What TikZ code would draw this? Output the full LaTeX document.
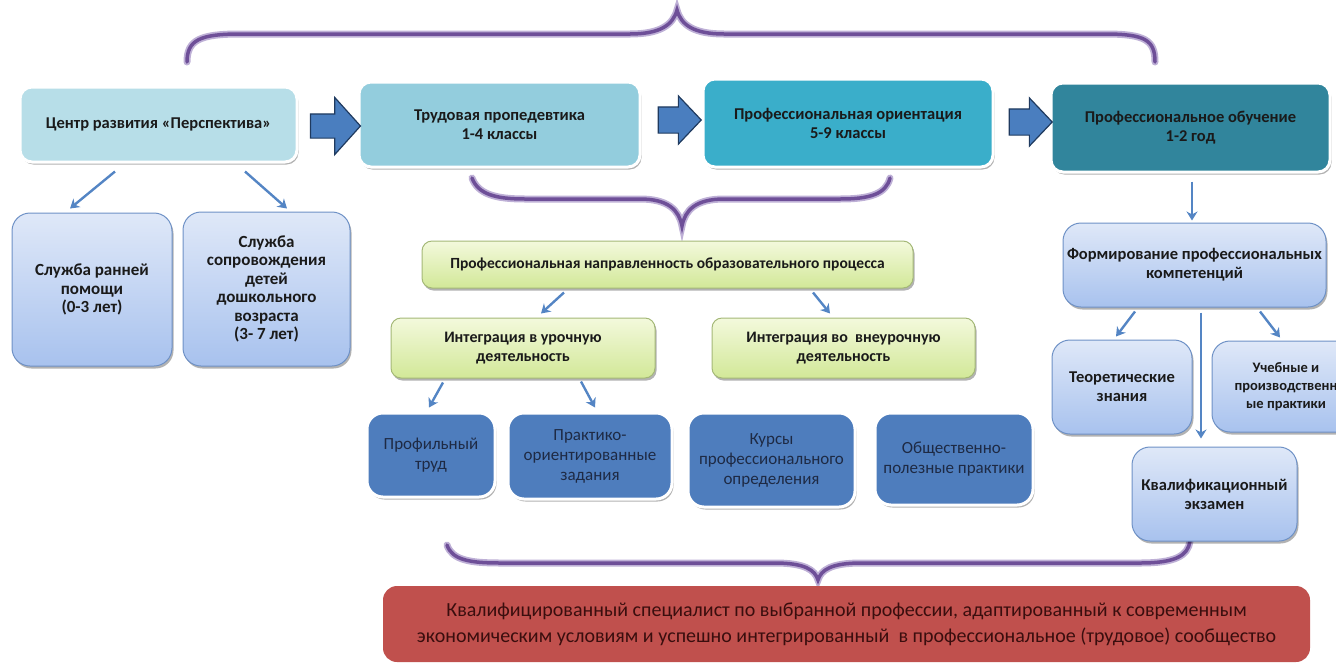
\documentclass[tikz,border=0pt]{standalone}
\usepackage{fontspec}
\setmainfont{Carlito}
\usetikzlibrary{shadows,arrows.meta,shapes.arrows,calc}
\definecolor{boxA}{HTML}{B7DEE8}
\definecolor{boxB}{HTML}{93CDDD}
\definecolor{boxC}{HTML}{3AAECA}
\definecolor{boxD}{HTML}{31859C}
\definecolor{lbTop}{HTML}{DFE8F8}
\definecolor{lbBot}{HTML}{A8C2EE}
\definecolor{lbLine}{HTML}{6E91C6}
\definecolor{lgTop}{HTML}{F3F9DC}
\definecolor{lgBot}{HTML}{D2E898}
\definecolor{lgLine}{HTML}{A4B877}
\definecolor{dkBlue}{HTML}{4E7DBD}
\definecolor{dkText}{HTML}{1E2A44}
\definecolor{redBox}{HTML}{C0504D}
\definecolor{redText}{HTML}{3A0E0E}
\definecolor{arrowBlue}{HTML}{5485C4}
\definecolor{bigArrow}{HTML}{4A7EBF}
\definecolor{bigArrowLine}{HTML}{1F3A5F}
\definecolor{braceCol}{HTML}{6E4F98}
\definecolor{braceGlow}{HTML}{BEB0D6}
\definecolor{txt}{HTML}{1A1A1A}
\begin{document}
\begin{tikzpicture}[x=1pt,y=-1pt,
  every node/.style={inner sep=0pt, align=center, text=txt},
  shad/.style={drop shadow={shadow xshift=1.5pt, shadow yshift=-2.5pt, opacity=0.3, fill=black}},
  topbox/.style={rounded corners=12pt, draw=white, line width=3pt, shad,
     font=\fontsize{16.5}{19}\selectfont\bfseries},
  lbbox/.style={rounded corners=18pt, draw=lbLine, line width=1pt, top color=lbTop, bottom color=lbBot, shad,
     font=\fontsize{16.5}{19}\selectfont\bfseries},
  lgbox/.style={rounded corners=10pt, draw=lgLine, line width=1pt, top color=lgTop, bottom color=lgBot, shad,
     font=\fontsize{16}{18.5}\selectfont\bfseries},
  dkbox/.style={rounded corners=16pt, draw=white, line width=3pt, fill=dkBlue, shad, text=dkText,
     font=\fontsize{17}{20}\selectfont},
  bigarr/.style={single arrow, fill=bigArrow, draw=bigArrowLine, line width=1.2pt, shape border rotate=0},
  conn/.style={draw=arrowBlue, line width=2.4pt, -{Stealth[length=9pt,width=11pt]}},
  brace/.style={draw=braceCol, line width=3.5pt, line cap=round, preaction={draw=braceGlow, line width=7pt, line cap=round}}
]
\useasboundingbox (0,0) rectangle (1336,665);
\clip (0,0) rectangle (1336,665);

% braces
\draw[brace] (187,62) .. controls (187,40) and (200,34) .. (240,34) -- (630,34)
  .. controls (660,34) and (673,25) .. (677,10)
  .. controls (681,25) and (694,34) .. (724,34) -- (1105,34)
  .. controls (1145,34) and (1155,40) .. (1155,62);
\draw[brace] (472,178) .. controls (478,194) and (495,199) .. (525,199) -- (640,199)
  .. controls (668,199) and (679,210) .. (682,226)
  .. controls (685,210) and (696,199) .. (724,199) -- (840,199)
  .. controls (870,199) and (886,194) .. (890,178);
\draw[brace] (447,545) .. controls (452,560) and (470,563) .. (500,563) -- (775,563)
  .. controls (805,563) and (815,570) .. (818,580)
  .. controls (821,570) and (831,563) .. (861,563) -- (1140,563)
  .. controls (1175,563) and (1188,556) .. (1190,541);

% top row
\node[topbox, fill=boxA, minimum width=277pt, minimum height=75pt] (A) at (158.5,124.5) {Центр развития «Перспектива»};
\node[topbox, fill=boxB, minimum width=281pt, minimum height=85pt] (B) at (499.5,124.5) {Трудовая пропедевтика\\1-4 классы};
\node[topbox, fill=boxC, minimum width=290pt, minimum height=88pt] (C) at (848,123) {Профессиональная ориентация\\5-9 классы};
\node[topbox, fill=boxD, minimum width=279pt, minimum height=89pt] (D) at (1190.5,127.5) {Профессиональное обучение\\1-2 год};

\node[bigarr, inner xsep=0pt, inner ysep=11.5pt, minimum height=50pt, single arrow head extend=16.5pt, single arrow tip angle=96] (ar1) at (330,126) {};
\node[bigarr, inner xsep=0pt, inner ysep=12.5pt, minimum height=43pt, single arrow head extend=11pt, single arrow tip angle=93] (ar2) at (673.5,120) {};
\node[bigarr, inner xsep=0pt, inner ysep=12.5pt, minimum height=43pt, single arrow head extend=11pt, single arrow tip angle=93] (ar3) at (1024.5,122) {};

% left lower
\node[lbbox, minimum width=160pt, minimum height=153pt, font=\fontsize{17}{18.5}\selectfont\bfseries] (E) at (92,289.5) {Служба ранней\\помощи\\(0-3 лет)};
\node[lbbox, minimum width=167pt, minimum height=154pt, font=\fontsize{17}{18.5}\selectfont\bfseries] (F) at (266.5,289) {Служба\\сопровождения\\детей\\дошкольного\\возраста\\(3- 7 лет)};

% middle
\node[lgbox, minimum width=491pt, minimum height=47pt, font=\fontsize{15.5}{18}\selectfont\bfseries] (G) at (667.5,264.5) {Профессиональная направленность образовательного процесса};
\node[lgbox, minimum width=264pt, minimum height=60pt] (H) at (523,348) {Интеграция в урочную\\деятельность};
\node[lgbox, minimum width=263pt, minimum height=60pt] (I) at (843.5,348) {Интеграция во\ \ внеурочную\\деятельность};

\node[dkbox, minimum width=128pt, minimum height=84pt] (J) at (431,455) {Профильный\\труд};
\node[dkbox, minimum width=164pt, minimum height=86pt] (K) at (590,456) {Практико-\\ориентированные\\задания};
\node[dkbox, minimum width=167pt, minimum height=94pt] (L) at (771.5,460) {Курсы\\профессионального\\определения};
\node[dkbox, minimum width=158pt, minimum height=92pt] (M) at (954,459) {Общественно-\\полезные практики};

% right column
\node[lbbox, minimum width=263pt, minimum height=84pt] (N) at (1194.5,265) {Формирование профессиональных\\компетенций};
\node[lbbox, minimum width=140pt, minimum height=94pt] (O) at (1122,387) {Теоретические\\знания};
\node[lbbox, minimum width=148pt, minimum height=91pt, font=\fontsize{14.5}{18}\selectfont\bfseries] (P) at (1286,386.5) {Учебные и\\производственн\\ые практики};
\node[lbbox, minimum width=165pt, minimum height=94pt] (Q) at (1214.5,494) {Квалификационный\\экзамен};

% result
\node[rounded corners=14pt, fill=redBox, minimum width=927pt, minimum height=76pt, text=redText,
   font=\fontsize{20}{26}\selectfont] (R) at (846.5,624) {Квалифицированный специалист по выбранной профессии, адаптированный к современным\\экономическим условиям и успешно интегрированный\ \ в профессиональное (трудовое) сообщество};

% connectors
\draw[conn] ($(A.south)+(-43.5,8)$) -- ($(E.north)+(-22,-4)$);
\draw[conn] ($(A.south)+(86.5,8)$) -- ($(F.north)+(20.5,-3)$);
\draw[conn] ($(G.south)+(-103.5,4)$) -- ($(H.north)+(18,-4)$);
\draw[conn] ($(G.south)+(145.5,4)$) -- ($(I.north)+(-13.5,-4)$);
\draw[conn] ($(H.south)+(-80,4)$) -- ($(J.north)+(-2,-4)$);
\draw[conn] ($(H.south)+(58,3)$) -- ($(K.north)+(5,-4)$);
\draw[conn] ($(D.south)+(1.5,8)$) -- ($(N.north)+(-2.5,-2)$);
\draw[conn] ($(N.south)+(-59.5,4)$) -- ($(O.north)+(-6,-3)$);
\draw[conn] ($(N.south)+(65.5,4)$) -- ($(P.north)+(-6,-3)$);
\draw[conn] ($(N.south)+(6.5,5)$) -- ($(Q.north)+(-13.5,-8)$);
\end{tikzpicture}
\end{document}
